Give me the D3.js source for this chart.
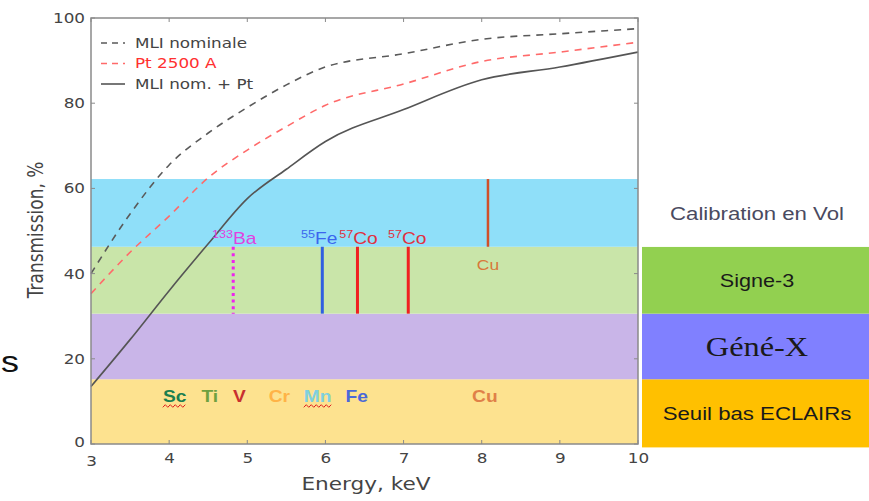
<!DOCTYPE html>
<html><head><meta charset="utf-8">
<script src="https://cdn.jsdelivr.net/npm/d3@7/dist/d3.min.js"></script>
<style>body{margin:0;background:#fff}svg{display:block}</style>
</head><body>
<svg id="c" width="869" height="501"></svg>
<script>
// ---- data ----
const energies   = [3, 3.5, 4, 4.5, 5, 5.5, 6, 7, 8, 9, 10];
const mliNominal = [40, 54, 65.5, 73, 79, 84.3, 88.5, 91.6, 95, 96.3, 97.5];
const pt2500     = [35.3, 45, 53.5, 62.5, 69, 74.5, 79.5, 84.5, 89.8, 92, 94.3];
const mliPlusPt  = [13.5, 24.5, 36, 47, 57.6, 64.5, 71, 78.5, 85.5, 88.5, 92];
const seriesNames = ["MLI nominale", "Pt 2500 A", "MLI nom. + Pt"];
const xTicks = [3, 4, 5, 6, 7, 8, 9, 10];
const yTicks = [0, 20, 40, 60, 80, 100];
const bandNames = ["Seuil bas ECLAIRs", "Géné-X", "Signe-3", "Calibration en Vol"];
const bandLow   = [0, 15.2, 30.6, 46.3];
const bandHigh  = [15.2, 30.6, 46.3, 62.2];
const sourceIso   = ["133", "55", "57", "57", ""];
const sourceEl    = ["Ba", "Fe", "Co", "Co", "Cu"];
const sourceE     = [4.82, 5.96, 6.41, 7.06, 8.08];
const sourceLow   = [30.6, 30.6, 30.6, 30.6, 46.3];
const sourceHigh  = [46.3, 46.3, 46.3, 46.3, 62.2];
const lowElements = ["Sc", "Ti", "V", "Cr", "Mn", "Fe", "Cu"];
const lowElemE    = [4.07, 4.52, 4.90, 5.41, 5.90, 6.40, 8.04];

// ---- styles ----
const W = 869, H = 501;
const SX = 1.2; // horizontal stretch of the original picture's text
const svg = d3.select("#c");
const x = d3.scaleLinear().domain([3, 10]).range([91, 638]);
const y = d3.scaleLinear().domain([0, 100]).range([444, 18]);
const bandColors = ["#fde28f", "#c9b5e8", "#c9e5a9", "#8fdff9"];
const boxColors  = ["#ffc000", "#8080ff", "#92d050", "#ffffff"];
const seriesColors = ["#5a5a5a", "#ff6a6a", "#555555"];
const seriesDash = ["7,6", "7,6", null];
const sourceColors = ["#ee22ee", "#2f5fe0", "#f02020", "#f02020", "#d0502a"];
const sourceLabelColors = ["#e040e0", "#3b66ee", "#e03040", "#e03040", "#d8783a"];
const lowColors = ["#1b7f4f", "#6fa040", "#c83030", "#ffb347", "#7fd0df", "#4a68d8", "#e08048"];
const sansM = "'DejaVu Sans', sans-serif";
const sansA = "'Liberation Sans', Arial, sans-serif";

function txt(px, py) {
  return svg.append("text").attr("transform", `translate(${px},${py}) scale(${SX},1)`);
}

// stray letter at the left edge
txt(1, 372).attr("font-family", sansA).attr("font-size", 30).attr("fill", "#111").text("s");

// bands in plot
bandLow.forEach((lo, i) => {
  svg.append("rect").attr("x", x(3)).attr("width", x(10) - x(3))
    .attr("y", y(bandHigh[i])).attr("height", y(lo) - y(bandHigh[i]))
    .attr("fill", bandColors[i]);
});

// right boxes
const boxFont = [18.5, 27, 18, 18.5];
bandLow.forEach((lo, i) => {
  const lo2 = i === 0 ? -0.8 : lo;
  svg.append("rect").attr("x", 642).attr("width", W - 642)
    .attr("y", y(bandHigh[i])).attr("height", y(lo2) - y(bandHigh[i]))
    .attr("fill", boxColors[i]);
  const cy = (y(bandHigh[i]) + y(lo2)) / 2;
  const isGene = i === 1;
  txt(757, cy).attr("dy", "0.36em").attr("text-anchor", "middle")
    .attr("font-family", isGene ? "'Liberation Serif', 'DejaVu Serif', serif" : sansA)
    .attr("font-size", boxFont[i])
    .attr("fill", i === 3 ? "#4a4a60" : "#1a1a1a")
    .text(bandNames[i]);
});

// curves
const line = d3.line().curve(d3.curveMonotoneX).x((d, i) => x(energies[i])).y(d => y(d));
[mliNominal, pt2500, mliPlusPt].forEach((s, k) => {
  svg.append("path").attr("d", line(s)).attr("fill", "none")
    .attr("stroke", seriesColors[k]).attr("stroke-width", 1.6)
    .attr("stroke-dasharray", seriesDash[k]);
});

// source lines
sourceE.forEach((e, i) => {
  svg.append("line").attr("x1", x(e)).attr("x2", x(e))
    .attr("y1", y(sourceHigh[i])).attr("y2", y(sourceLow[i]))
    .attr("stroke", sourceColors[i]).attr("stroke-width", i === 4 ? 2.5 : 3)
    .attr("stroke-dasharray", i === 0 ? "3,3.6" : null);
});
// source labels
const labelOffsets = [1, -3, 1, -1];
sourceE.forEach((e, i) => {
  if (i === 4) {
    txt(x(e), 270).attr("text-anchor", "middle")
      .attr("font-family", sansA).attr("font-size", 14.5).attr("fill", sourceLabelColors[i])
      .text(sourceEl[i]);
    return;
  }
  const t = txt(x(e) + labelOffsets[i], 244)
    .attr("text-anchor", "middle").attr("font-family", sansA).attr("fill", sourceLabelColors[i]);
  t.append("tspan").attr("font-size", 10.5).attr("dy", -6).text(sourceIso[i]);
  t.append("tspan").attr("font-size", 16).attr("dy", 6).text(sourceEl[i]);
});

// low-energy element labels
lowElements.forEach((el, i) => {
  const t = txt(x(lowElemE[i]), 402)
    .attr("text-anchor", "middle").attr("font-family", sansA).attr("font-size", 16)
    .attr("font-weight", i === 0 || i === 2 ? "bold" : "600").attr("fill", lowColors[i]).text(el);
  if (el === "Sc" || el === "Mn") {
    const b = t.node().getBBox();
    const x0 = x(lowElemE[i]) - b.width * SX / 2, x1 = x(lowElemE[i]) + b.width * SX / 2;
    const pts = [];
    for (let px = x0; px <= x1; px += 2.5) pts.push([px, 406 + ((pts.length % 2) ? -1.3 : 1.3)]);
    svg.append("path").attr("d", d3.line()(pts)).attr("fill", "none")
      .attr("stroke", "#e02020").attr("stroke-width", 1);
  }
});

// axes frame
const axisColor = "#8a8a8a";
svg.append("rect").attr("x", x(3)).attr("y", y(100)).attr("width", x(10) - x(3))
  .attr("height", y(0) - y(100)).attr("fill", "none").attr("stroke", axisColor).attr("stroke-width", 1.5);
// inward ticks
xTicks.forEach(t => {
  svg.append("line").attr("x1", x(t)).attr("x2", x(t)).attr("y1", y(0)).attr("y2", y(0) - 4).attr("stroke", axisColor);
  svg.append("line").attr("x1", x(t)).attr("x2", x(t)).attr("y1", y(100)).attr("y2", y(100) + 4).attr("stroke", axisColor);
});
yTicks.forEach(t => {
  svg.append("line").attr("x1", x(3)).attr("x2", x(3) + 4).attr("y1", y(t)).attr("y2", y(t)).attr("stroke", axisColor);
  svg.append("line").attr("x1", x(10)).attr("x2", x(10) - 4).attr("y1", y(t)).attr("y2", y(t)).attr("stroke", axisColor);
});
// tick labels via d3 axes (no lines)
const xAxis = svg.append("g").attr("transform", `translate(0,${y(0)})`)
  .call(d3.axisBottom(x).tickValues(xTicks).tickFormat(d3.format("d")).tickSize(0).tickPadding(9));
const yAxis = svg.append("g").attr("transform", `translate(${x(3)},0)`)
  .call(d3.axisLeft(y).tickValues(yTicks).tickFormat(d3.format("d")).tickSize(0).tickPadding(6));
[xAxis, yAxis].forEach(g => {
  g.select(".domain").remove();
  g.selectAll("text").attr("font-family", sansM).attr("font-size", 14).attr("fill", "#444");
});
// apply the horizontal stretch to tick labels around their anchor
xAxis.selectAll(".tick text").attr("transform", `scale(${SX},1)`);
yAxis.selectAll(".tick text").each(function () {
  const t = d3.select(this);
  const tx = +t.attr("x");
  t.attr("x", 0).attr("transform", `translate(${tx},0) scale(${SX},1)`);
});
yAxis.selectAll(".tick").filter(d => d === 0).select("text").attr("dy", "0.15em");
xAxis.selectAll(".tick").filter(d => d === 3).select("text").attr("dy", "0.95em");

// axis titles
txt(366, 490).attr("text-anchor", "middle")
  .attr("font-family", sansM).attr("font-size", 18).attr("fill", "#444").text("Energy, keV");
svg.append("text").attr("transform", `translate(43,230) rotate(-90) scale(1,${SX})`).attr("text-anchor", "middle")
  .attr("font-family", sansM).attr("font-size", 17).attr("fill", "#444").text("Transmission, %");

// legend
seriesNames.forEach((n, k) => {
  const ly = 43 + k * 20.5;
  svg.append("line").attr("x1", 101).attr("x2", 125).attr("y1", ly).attr("y2", ly)
    .attr("stroke", seriesColors[k]).attr("stroke-width", 1.6)
    .attr("stroke-dasharray", seriesDash[k] ? "6,5" : null);
  txt(135, ly).attr("dy", "0.35em")
    .attr("font-family", sansM).attr("font-size", 14)
    .attr("fill", k === 1 ? "#ff3030" : "#444").text(n);
});
</script>
</body></html>
